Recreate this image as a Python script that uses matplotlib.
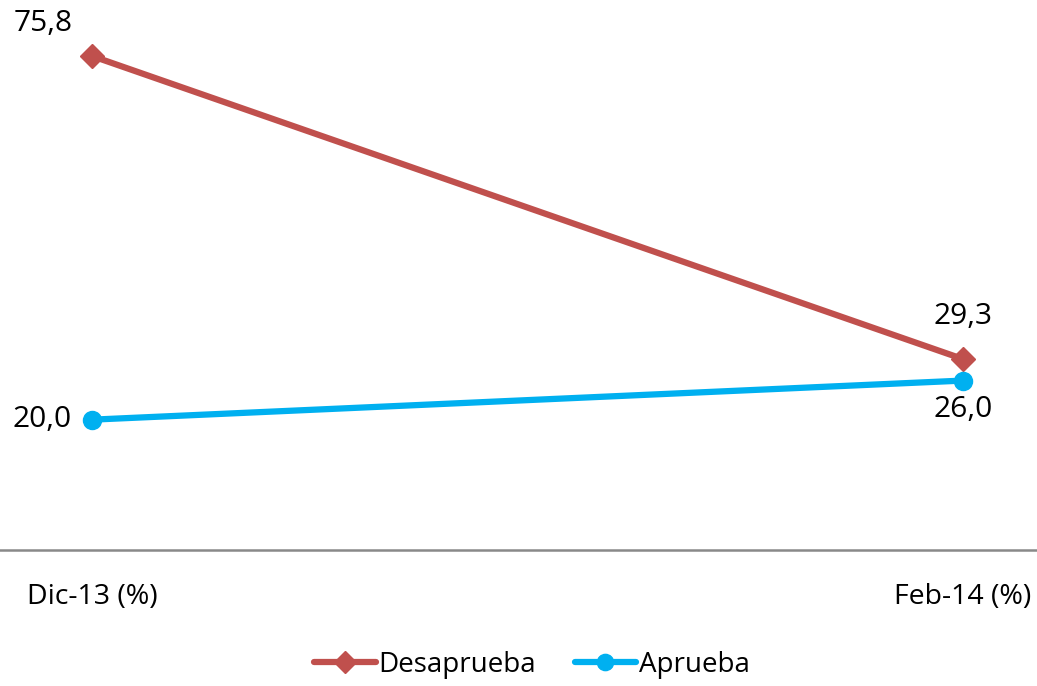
import matplotlib.pyplot as plt

plt.rcParams["font.family"] = ["Open Sans", "DejaVu Sans"]

categories = ["Dic-13 (%)", "Feb-14 (%)"]
desaprueba = [75.8, 29.3]
aprueba = [20.0, 26.0]
labels_des = ["75,8", "29,3"]
labels_apr = ["20,0", "26,0"]

fig = plt.figure(figsize=(10.37, 6.86), dpi=100)
ax = fig.add_axes([0, 136 / 686, 1, 550 / 686])

x = [0, 1]
ax.plot(x, desaprueba, color="#C0504D", lw=4.5, marker="D", markersize=12,
        label="Desaprueba", solid_capstyle="round")
ax.plot(x, aprueba, color="#00B0F0", lw=4.5, marker="o", markersize=13,
        label="Aprueba", solid_capstyle="round")

# data labels
off_des = [(-49, 33), (0, 43)]
off_apr = [(-50, 0), (0, -29)]
for i in range(2):
    ax.annotate(labels_des[i], (x[i], desaprueba[i]), xytext=off_des[i],
                textcoords="offset pixels", ha="center", va="center", fontsize=21.5)
    ax.annotate(labels_apr[i], (x[i], aprueba[i]), xytext=off_apr[i],
                textcoords="offset pixels", ha="center", va="center", fontsize=21.5)

ax.set_xlim(-92 / 871, 1 + 74 / 871)
ax.set_ylim(0, 84.4)
ax.set_xticks(x)
ax.set_xticklabels(categories, fontsize=20.5)
ax.tick_params(axis="x", length=0, pad=24)
ax.set_yticks([])
for s in ["top", "left", "right"]:
    ax.spines[s].set_visible(False)
ax.spines["bottom"].set_color("#898989")
ax.spines["bottom"].set_linewidth(1.8)

fig.legend(loc="center", bbox_to_anchor=(532 / 1037, 1 - 665 / 686), ncol=2,
           frameon=False, fontsize=20, handlelength=2.2, handletextpad=0.1,
           columnspacing=1.4, markerscale=0.9)

fig.savefig("out.png", dpi=100)
